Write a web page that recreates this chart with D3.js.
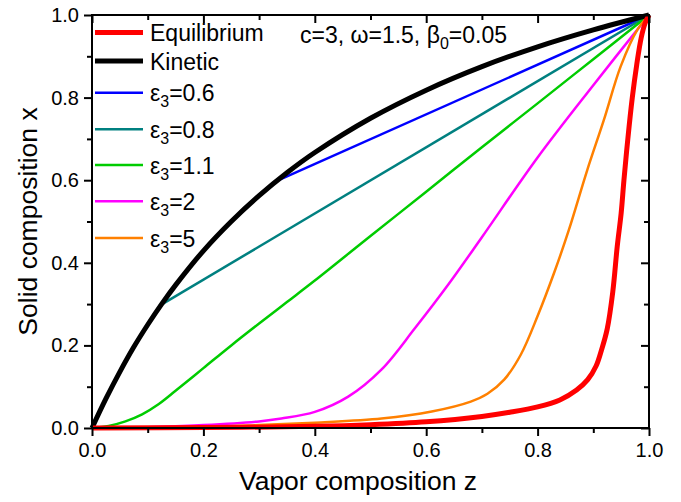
<!DOCTYPE html>
<html>
<head>
<meta charset="utf-8">
<script src="https://cdn.jsdelivr.net/npm/d3@7"></script>
<style>
  html, body { margin: 0; padding: 0; background: #fff; }
  svg { display: block; font-family: "Liberation Sans", Arial, sans-serif; }
</style>
</head>
<body>
<svg id="chart" width="681" height="502"></svg>
<script>
// ---------- data ----------
const equilibriumZ = [0, 0.2, 0.4, 0.5, 0.6, 0.7, 0.75, 0.8, 0.84, 0.87, 0.89, 0.905, 0.915, 0.925, 0.935, 0.943, 0.95, 0.955, 0.962, 0.97, 0.978, 0.986, 0.993, 1.0];
const equilibriumX = [0, 0.001, 0.004, 0.008, 0.015, 0.028, 0.038, 0.051, 0.068, 0.092, 0.117, 0.15, 0.19, 0.24, 0.33, 0.44, 0.52, 0.6, 0.7, 0.8, 0.88, 0.945, 0.98, 1.0];

const kineticZ = [0, 0.025, 0.05, 0.075, 0.1, 0.125, 0.15, 0.2, 0.25, 0.3, 0.35, 0.4, 0.5, 0.6, 0.7, 0.8, 0.9, 1.0];
const kineticX = [0, 0.071, 0.136, 0.196, 0.25, 0.3, 0.346, 0.429, 0.5, 0.5625, 0.618, 0.667, 0.75, 0.818, 0.875, 0.923, 0.964, 1.0];

const eps06Z = [0.335, 1.0];
const eps06X = [0.6, 1.0];

const eps08Z = [0.12, 1.0];
const eps08X = [0.295, 1.0];

const eps11Z = [0, 0.03, 0.06, 0.09, 0.12, 0.15, 0.2, 0.25, 0.3, 0.35, 0.4, 0.5, 0.6, 0.7, 0.8, 0.9, 1.0];
const eps11X = [0, 0.005, 0.016, 0.033, 0.058, 0.09, 0.145, 0.2, 0.253, 0.305, 0.357, 0.465, 0.572, 0.68, 0.786, 0.893, 1.0];

const eps2Z = [0.04, 0.1, 0.2, 0.3, 0.34, 0.4, 0.46, 0.52, 0.58, 0.64, 0.7, 0.8, 0.9, 1.0];
const eps2X = [0, 0.002, 0.007, 0.016, 0.023, 0.039, 0.076, 0.142, 0.242, 0.348, 0.462, 0.655, 0.83, 1.0];

const eps5Z = [0.06, 0.1, 0.2, 0.3, 0.4, 0.52, 0.61, 0.68, 0.71, 0.74, 0.77, 0.8, 0.83, 0.856, 0.889, 0.919, 0.949, 0.979, 1.0];
const eps5X = [0, 0.0005, 0.002, 0.007, 0.013, 0.023, 0.04, 0.064, 0.083, 0.117, 0.178, 0.271, 0.377, 0.479, 0.624, 0.746, 0.875, 0.964, 1.0];

const seriesNames = ["Equilibrium", "Kinetic", "0.6", "0.8", "1.1", "2", "5"];
const xMajorTicks = [0, 0.2, 0.4, 0.6, 0.8, 1.0];
const xMinorTicks = [0.1, 0.3, 0.5, 0.7, 0.9];
const yMajorTicks = [0, 0.2, 0.4, 0.6, 0.8, 1.0];
const yMinorTicks = [0.1, 0.3, 0.5, 0.7, 0.9];

// ---------- layout ----------
const svg = d3.select("#chart");
const L = 92, R = 649, T = 15, B = 428;
const x = d3.scaleLinear().domain([0, 1]).range([L, R]);
const y = d3.scaleLinear().domain([0, 1]).range([B, T]);

const series = [
  { name: seriesNames[0], z: equilibriumZ, v: equilibriumX, color: "#ff0000", w: 5, eps: false },
  { name: seriesNames[1], z: kineticZ, v: kineticX, color: "#000000", w: 5, eps: false },
  { name: seriesNames[2], z: eps06Z, v: eps06X, color: "#0000ff", w: 2.5, eps: true },
  { name: seriesNames[3], z: eps08Z, v: eps08X, color: "#008080", w: 2.5, eps: true },
  { name: seriesNames[4], z: eps11Z, v: eps11X, color: "#00cc00", w: 2.5, eps: true },
  { name: seriesNames[5], z: eps2Z, v: eps2X, color: "#ff00ff", w: 2.5, eps: true },
  { name: seriesNames[6], z: eps5Z, v: eps5X, color: "#ff8000", w: 2.5, eps: true }
];

const line = d3.line().x(d => x(d[0])).y(d => y(d[1])).curve(d3.curveCatmullRom.alpha(0.5));

const plot = svg.append("g");
// draw epsilon curves first, then kinetic, then equilibrium on top
const drawOrder = [2, 3, 4, 5, 6, 1, 0];
drawOrder.forEach(i => {
  const s = series[i];
  plot.append("path")
    .datum(s.z.map((zz, k) => [zz, s.v[k]]))
    .attr("d", line)
    .attr("fill", "none")
    .attr("stroke", s.color)
    .attr("stroke-width", s.w)
    .attr("stroke-linejoin", "round");
});

// ---------- axes ----------
function styleAxis(g) {
  g.select(".domain").remove();
  g.selectAll("line").attr("stroke", "#000").attr("stroke-width", 2);
  g.selectAll("text").attr("font-size", 20).attr("fill", "#000")
    .attr("font-family", "'Liberation Sans', Arial, sans-serif");
}
const fmt = d3.format(".1f");
// bottom
svg.append("g").attr("transform", `translate(0,${B})`)
  .call(d3.axisBottom(x).tickValues(xMajorTicks).tickFormat(fmt).tickSize(8).tickPadding(7))
  .call(styleAxis);
svg.append("g").attr("transform", `translate(0,${B})`)
  .call(d3.axisBottom(x).tickValues(xMinorTicks).tickFormat("").tickSize(5))
  .call(styleAxis);
// left
svg.append("g").attr("transform", `translate(${L},0)`)
  .call(d3.axisLeft(y).tickValues(yMajorTicks).tickFormat(fmt).tickSize(8).tickPadding(5))
  .call(styleAxis);
svg.append("g").attr("transform", `translate(${L},0)`)
  .call(d3.axisLeft(y).tickValues(yMinorTicks).tickFormat("").tickSize(5))
  .call(styleAxis);
// top (inward)
svg.append("g").attr("transform", `translate(0,${T})`)
  .call(d3.axisBottom(x).tickValues(xMajorTicks).tickFormat("").tickSize(8))
  .call(styleAxis);
svg.append("g").attr("transform", `translate(0,${T})`)
  .call(d3.axisBottom(x).tickValues(xMinorTicks).tickFormat("").tickSize(5))
  .call(styleAxis);
// right (inward)
svg.append("g").attr("transform", `translate(${R},0)`)
  .call(d3.axisLeft(y).tickValues(yMajorTicks).tickFormat("").tickSize(8))
  .call(styleAxis);
svg.append("g").attr("transform", `translate(${R},0)`)
  .call(d3.axisLeft(y).tickValues(yMinorTicks).tickFormat("").tickSize(5))
  .call(styleAxis);

// frame
svg.append("rect")
  .attr("x", L).attr("y", T).attr("width", R - L).attr("height", B - T)
  .attr("fill", "none").attr("stroke", "#000").attr("stroke-width", 2);

// axis titles
svg.append("text")
  .attr("x", 358).attr("y", 490)
  .attr("text-anchor", "middle").attr("font-size", 26.5)
  .text("Vapor composition z");
svg.append("text")
  .attr("transform", `translate(37,${(T + B) / 2}) rotate(-90)`)
  .attr("text-anchor", "middle").attr("font-size", 26.5)
  .text("Solid composition x");

// ---------- legend ----------
const legendY = [32.5, 61, 92.7, 129.3, 165, 201.3, 238];
const lg = svg.append("g");
series.forEach((s, i) => {
  const yy = legendY[i];
  lg.append("line")
    .attr("x1", 95).attr("x2", 143).attr("y1", yy).attr("y2", yy)
    .attr("stroke", s.color).attr("stroke-width", s.w);
  const t = lg.append("text").attr("x", 150).attr("y", yy + 8.5).attr("font-size", 23);
  if (s.eps) {
    t.append("tspan").text("ε");
    t.append("tspan").attr("font-size", 16).attr("dy", 6).text("3");
    t.append("tspan").attr("dy", -6).text("=" + s.name);
  } else {
    t.text(s.name);
  }
});

// annotation
const ann = svg.append("text").attr("x", 300).attr("y", 43).attr("font-size", 23);
ann.append("tspan").text("c=3, ω=1.5, β");
ann.append("tspan").attr("font-size", 16).attr("dy", 6).text("0");
ann.append("tspan").attr("dy", -6).text("=0.05");
</script>
</body>
</html>
